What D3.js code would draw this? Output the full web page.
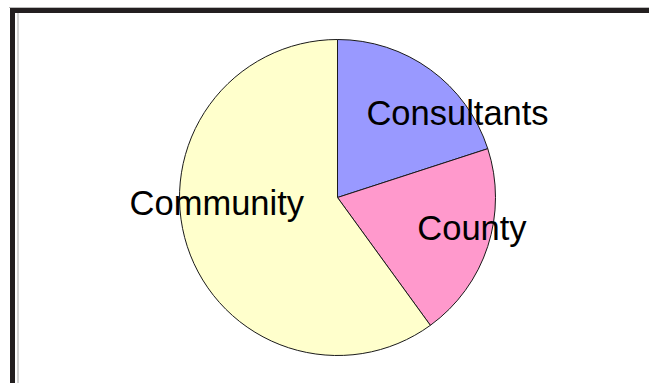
<!DOCTYPE html>
<html>
<head>
<meta charset="utf-8">
<script src="https://cdn.jsdelivr.net/npm/d3@7"></script>
<style>
  body { margin: 0; background: #fff; }
  svg { display: block; }
  text { font-family: "Liberation Sans", Arial, sans-serif; }
</style>
</head>
<body>
<svg id="chart"></svg>
<script>
// data
const categories = ["Consultants", "County", "Community"];
const shares = [20, 20, 60];
const sliceColors = ["#9999ff", "#ff99cc", "#ffffcc"];

const width = 649, height = 383;
const cx = 337.5, cy = 197.5, radius = 158;

// where each label sits, as polar offset from the pie centre (deg clockwise from top, px)
const labelAngle = [59, 107.5, 261.7];
const labelDist = [140, 141, 122];

const svg = d3.select("#chart")
	.attr("width", width)
	.attr("height", height);

// frame
svg.append("rect").attr("x", 9).attr("y", 7).attr("width", width - 9).attr("height", 1).attr("fill", "#bbb");
svg.append("rect").attr("x", 10).attr("y", 8).attr("width", width - 10).attr("height", 5).attr("fill", "#231f20");
svg.append("rect").attr("x", 10).attr("y", 8).attr("width", 5).attr("height", height - 8).attr("fill", "#231f20");
svg.append("rect").attr("x", 17.5).attr("y", 13).attr("width", 1).attr("height", height - 13).attr("fill", "#aaa");

const pie = d3.pie().sort(null).value(d => d.v);
const arcs = pie(categories.map((c, i) => ({ name: c, v: shares[i], color: sliceColors[i] })));

const arc = d3.arc().innerRadius(0).outerRadius(radius);

const g = svg.append("g").attr("transform", "translate(" + cx + "," + cy + ")");

g.selectAll("path")
	.data(arcs)
	.join("path")
	.attr("d", arc)
	.attr("fill", d => d.data.color)
	.attr("stroke", "#1a1a1a")
	.attr("stroke-width", 1);

const toRad = d3.scaleLinear().domain([0, 360]).range([0, 2 * Math.PI]);

g.selectAll("text")
	.data(arcs)
	.join("text")
	.attr("x", (d, i) => labelDist[i] * Math.sin(toRad(labelAngle[i])))
	.attr("y", (d, i) => -labelDist[i] * Math.cos(toRad(labelAngle[i])))
	.attr("text-anchor", "middle")
	.attr("font-size", 34.5)
	.attr("fill", "#000")
	.text(d => d.data.name);
</script>
</body>
</html>
